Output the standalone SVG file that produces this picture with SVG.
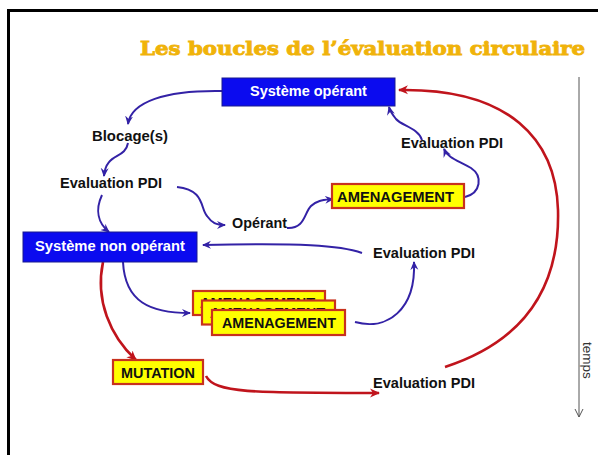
<svg xmlns="http://www.w3.org/2000/svg" width="598" height="455" viewBox="0 0 598 455">
<style>
.lbl{font-family:"Liberation Sans",Arial,sans-serif;font-weight:bold;font-size:14px;fill:#111}
.wt{font-family:"Liberation Sans",Arial,sans-serif;font-weight:bold;font-size:14.5px;fill:#fff}
.bbox{fill:#0b0bef;stroke:#1a1a90;stroke-width:1}
.ybox{fill:#ffff00;stroke:#c8321e;stroke-width:2.2}
.bl{fill:none;stroke:#3322a6;stroke-width:2}
.rd{fill:none;stroke:#c0141c;stroke-width:2.6}
</style>
<defs>
<marker id="ab" markerUnits="userSpaceOnUse" markerWidth="10" markerHeight="10" refX="8" refY="5" orient="auto" viewBox="0 0 10 10">
<path d="M0,1 L9,5 L0,9 L3,5 z" fill="#3322a6"/>
</marker>
<marker id="ar" markerUnits="userSpaceOnUse" markerWidth="11" markerHeight="11" refX="9" refY="5.5" orient="auto" viewBox="0 0 11 11">
<path d="M0,1 L10,5.5 L0,10 L3,5.5 z" fill="#c0141c"/>
</marker>
<marker id="ag" markerUnits="userSpaceOnUse" markerWidth="10" markerHeight="10" refX="9" refY="5" orient="auto" viewBox="0 0 10 10">
<path d="M1,1 L9,5 L1,9" fill="none" stroke="#555" stroke-width="1"/>
</marker>
</defs>
<rect width="598" height="455" fill="#fff"/>
<rect x="8.5" y="10.5" width="600" height="460" fill="none" stroke="#000" stroke-width="3"/>
<text x="140" y="55" textLength="445" lengthAdjust="spacingAndGlyphs" font-family="'DejaVu Serif','Liberation Serif',serif" font-weight="bold" font-size="18.5" fill="#f0b30a" stroke="#f0b30a" stroke-width="0.9">Les boucles de l’évaluation circulaire</text>
<g id="connectors">
<path class="bl" marker-end="url(#ab)" d="M222,91 C165,90 131,102 128,124"/>
<path class="bl" marker-end="url(#ab)" d="M128,143 C125,160 106,152 104,176"/>
<path class="bl" marker-end="url(#ab)" d="M102,195 C95,210 98,223 109,232"/>
<path class="bl" marker-end="url(#ab)" d="M177,187 C205,190 200,208 207,216 C212,223 216,225 225,225"/>
<path class="bl" marker-end="url(#ab)" d="M287,228 C305,229 304,213 311,206 C317,200 324,200 333,199"/>
<path class="bl" marker-end="url(#ab)" d="M465,197 C481,193 483,176 471,168 C457,160 448,158 444,149"/>
<path class="bl" marker-end="url(#ab)" d="M422,140 C418,128 402,126 396,119 C392,114 390,111 389,107"/>
<path class="bl" marker-end="url(#ab)" d="M362,253 C340,245 300,243 203,245"/>
<path class="bl" marker-end="url(#ab)" d="M123,262 C125,302 150,313 190,313"/>
<path class="bl" marker-end="url(#ab)" d="M355,322 C387,331 416,310 414,262"/>
<path class="rd" marker-end="url(#ar)" d="M103,262 C95,300 110,336 136,360"/>
<path class="rd" marker-end="url(#ar)" d="M206,376 C215,393 250,393 379,393"/>
<path class="rd" marker-end="url(#ar)" d="M445,367 C522,342 560,290 558,210 C556,140 510,88 399,90"/>
</g>
<g id="timeaxis">
<line x1="579" y1="77" x2="579" y2="417" stroke="#555" stroke-width="1" marker-end="url(#ag)"/>
<text transform="translate(583,342) rotate(90)" font-family="'Liberation Sans',Arial,sans-serif" font-size="13.5" fill="#333">temps</text>
</g>
<g id="systeme-operant">
<rect class="bbox" x="222" y="78" width="173" height="28"/>
<text class="wt" x="308.5" y="96" text-anchor="middle">Système opérant</text>
</g>
<g id="blocages">
<text class="lbl" x="92" y="141" textLength="76" lengthAdjust="spacingAndGlyphs">Blocage(s)</text>
</g>
<g id="evaluation-pdi-1">
<text class="lbl" x="60" y="188" textLength="102" lengthAdjust="spacingAndGlyphs">Evaluation PDI</text>
</g>
<g id="operant">
<text class="lbl" x="232" y="228" textLength="55" lengthAdjust="spacingAndGlyphs">Opérant</text>
</g>
<g id="amenagement-1">
<rect class="ybox" x="332" y="184" width="132" height="24"/>
<text class="lbl" x="337" y="202" textLength="117" lengthAdjust="spacingAndGlyphs">AMENAGEMENT</text>
</g>
<g id="evaluation-pdi-2">
<text class="lbl" x="401" y="148" textLength="102" lengthAdjust="spacingAndGlyphs">Evaluation PDI</text>
</g>
<g id="systeme-non-operant">
<rect class="bbox" x="23" y="232" width="174" height="30"/>
<text class="wt" x="110" y="251" text-anchor="middle" textLength="150" lengthAdjust="spacingAndGlyphs">Système non opérant</text>
</g>
<g id="evaluation-pdi-3">
<text class="lbl" x="373" y="258" textLength="102" lengthAdjust="spacingAndGlyphs">Evaluation PDI</text>
</g>
<g id="amenagement-stack">
<rect class="ybox" x="193" y="291" width="132" height="24"/>
<text class="lbl" x="200" y="308" textLength="115" lengthAdjust="spacingAndGlyphs">AMENAGEMENT</text>
<rect class="ybox" x="202" y="300.5" width="133" height="24"/>
<text class="lbl" x="210" y="317.5" textLength="115" lengthAdjust="spacingAndGlyphs">AMENAGEMENT</text>
<rect class="ybox" x="212" y="310" width="133" height="25"/>
<text class="lbl" x="222" y="328" textLength="114" lengthAdjust="spacingAndGlyphs">AMENAGEMENT</text>
</g>
<g id="mutation">
<rect class="ybox" x="113" y="360" width="90" height="24"/>
<text class="lbl" x="121" y="378" textLength="74" lengthAdjust="spacingAndGlyphs">MUTATION</text>
</g>
<g id="evaluation-pdi-4">
<text class="lbl" x="373" y="388" textLength="102" lengthAdjust="spacingAndGlyphs">Evaluation PDI</text>
</g>
</svg>
